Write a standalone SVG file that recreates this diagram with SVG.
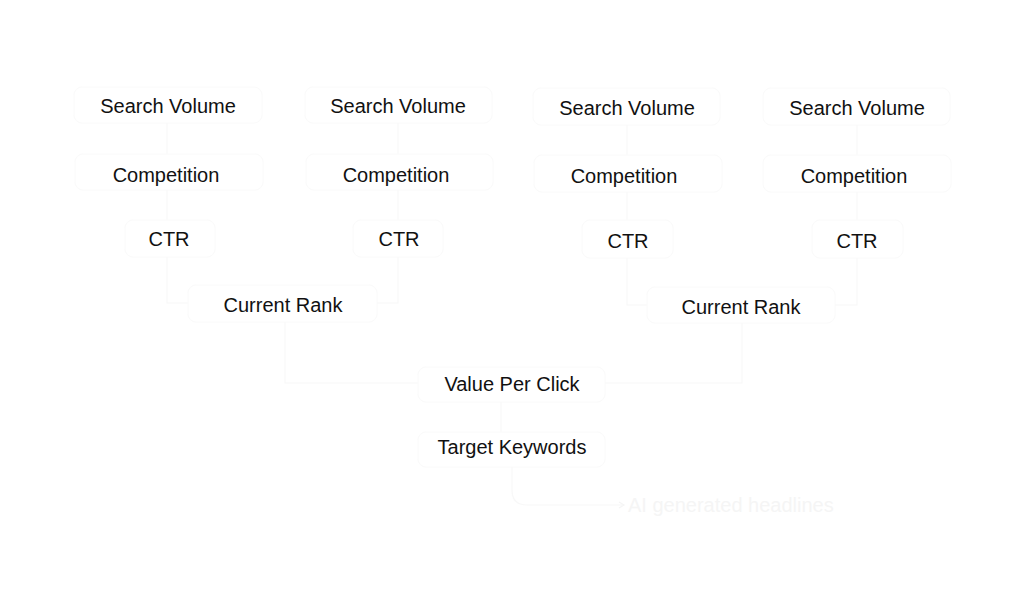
<svg xmlns="http://www.w3.org/2000/svg" width="1024" height="594" viewBox="0 0 1024 594">
<style>
.box{fill:#ffffff;stroke:#fafafa;stroke-width:1}
.lbl{font-family:"Liberation Sans",Arial,sans-serif;font-size:20px;fill:#111111;text-anchor:middle}
.faint{font-family:"Liberation Sans",Arial,sans-serif;font-size:20px;fill:#f5f5f5}
.con{fill:none;stroke:#f8f8f8;stroke-width:1.2}
</style>
<defs>
<marker id="arr" markerWidth="8" markerHeight="8" refX="6" refY="4" orient="auto" markerUnits="userSpaceOnUse">
<path d="M1,1 L6,4 L1,7" fill="none" stroke="#f5f5f5" stroke-width="1.2"/>
</marker>
</defs>
<rect width="1024" height="594" fill="#ffffff"/>
<g id="connectors">
<path class="con" d="M167,123 V154 M167,190 V220 M167,257 V303 H188"/>
<path class="con" d="M398,123 V154 M398,190 V220 M398,257 V303 H377"/>
<path class="con" d="M627,125 V155 M627,192 V220 M627,258 V305 H647"/>
<path class="con" d="M857,125 V155 M857,192 V220 M857,258 V305 H835"/>
<path class="con" d="M285,322 V383 H418"/>
<path class="con" d="M742,323 V383 H605"/>
<path class="con" d="M501,402 V432"/>
<path class="con" d="M512,467 V490 Q512,505 527,505 H624" marker-end="url(#arr)"/>
</g>
<g id="sv1"><rect class="box" x="74" y="87" width="188" height="36" rx="8"/><text class="lbl" x="168" y="113">Search Volume</text></g>
<g id="comp1"><rect class="box" x="75" y="154" width="188" height="36" rx="8"/><text class="lbl" x="166" y="182">Competition</text></g>
<g id="ctr1"><rect class="box" x="125" y="220" width="90" height="37" rx="8"/><text class="lbl" x="169" y="246">CTR</text></g>
<g id="sv2"><rect class="box" x="305" y="87" width="187" height="36" rx="8"/><text class="lbl" x="398" y="113">Search Volume</text></g>
<g id="comp2"><rect class="box" x="306" y="154" width="187" height="36" rx="8"/><text class="lbl" x="396" y="182">Competition</text></g>
<g id="ctr2"><rect class="box" x="353" y="220" width="90" height="37" rx="8"/><text class="lbl" x="399" y="246">CTR</text></g>
<g id="sv3"><rect class="box" x="533" y="88" width="187" height="37" rx="8"/><text class="lbl" x="627" y="115">Search Volume</text></g>
<g id="comp3"><rect class="box" x="534" y="155" width="188" height="37" rx="8"/><text class="lbl" x="624" y="183">Competition</text></g>
<g id="ctr3"><rect class="box" x="582" y="220" width="91" height="38" rx="8"/><text class="lbl" x="628" y="248">CTR</text></g>
<g id="sv4"><rect class="box" x="763" y="88" width="187" height="37" rx="8"/><text class="lbl" x="857" y="115">Search Volume</text></g>
<g id="comp4"><rect class="box" x="763" y="155" width="188" height="37" rx="8"/><text class="lbl" x="854" y="183">Competition</text></g>
<g id="ctr4"><rect class="box" x="812" y="220" width="91" height="38" rx="8"/><text class="lbl" x="857" y="248">CTR</text></g>
<g id="rank1"><rect class="box" x="188" y="285" width="189" height="37" rx="8"/><text class="lbl" x="283" y="312">Current Rank</text></g>
<g id="rank2"><rect class="box" x="647" y="287" width="188" height="36" rx="8"/><text class="lbl" x="741" y="314">Current Rank</text></g>
<g id="vpc"><rect class="box" x="418" y="367" width="187" height="35" rx="8"/><text class="lbl" x="512" y="391">Value Per Click</text></g>
<g id="tk"><rect class="box" x="418" y="432" width="187" height="35" rx="8"/><text class="lbl" x="512" y="454">Target Keywords</text></g>
<g id="ai"><text class="faint" x="628" y="512">AI generated headlines</text></g>
</svg>
